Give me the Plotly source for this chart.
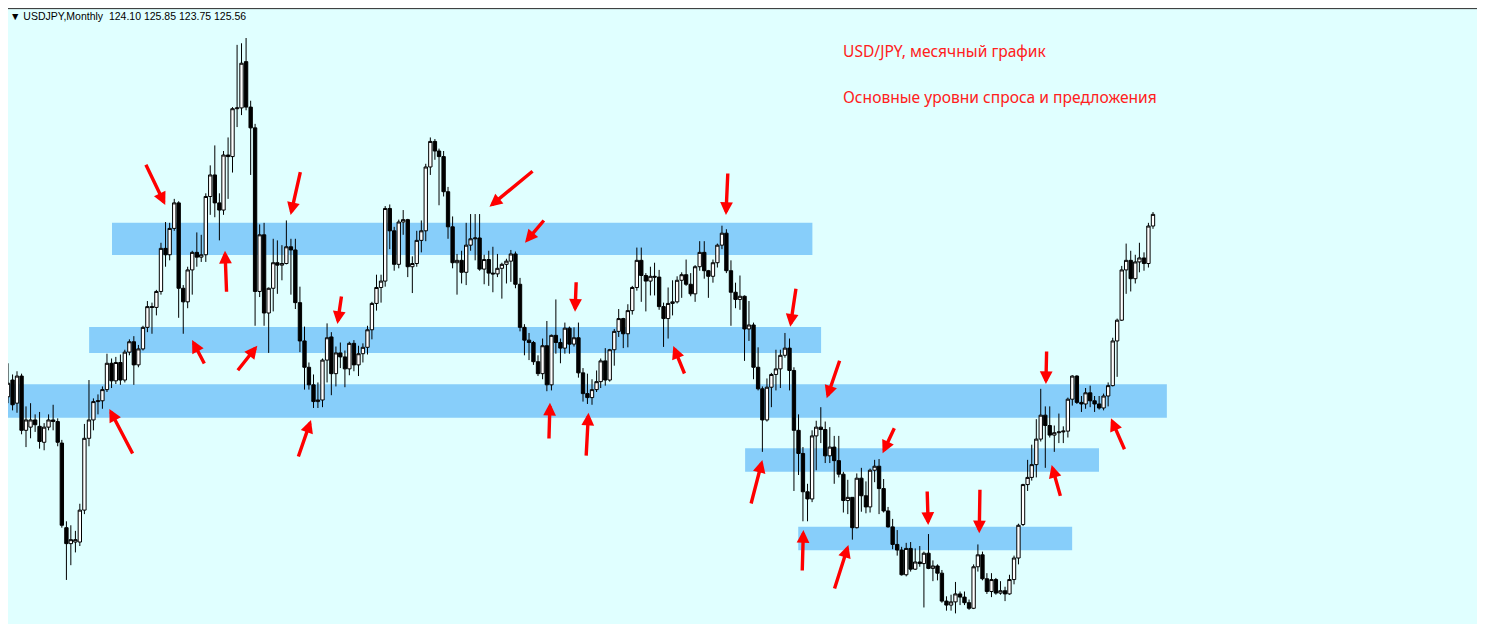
import pandas as pd
import plotly.graph_objects as go

# ---------------- data (USDJPY monthly, Feb 1994 - Jun 2015) ----------------
months = pd.date_range("1994-02-01", "2015-06-01", freq="MS")

open_ = [
    108.0, 102.7, 104.8, 101.9, 105.3, 98.5, 98.9, 99.8, 99.0, 97.0, 98.9,
    99.8, 99.6, 96.9, 86.3, 84.3, 84.5, 84.5, 88.5, 97.5, 99.8, 102.1, 102.2,
    103.6, 106.9, 104.7, 107.0, 104.8, 108.3, 109.6, 106.7, 108.7, 111.4, 114.0, 113.9,
    115.9, 121.3, 120.5, 123.8, 127.0, 116.3, 114.6, 118.6, 120.8, 120.2, 120.5, 127.8,
    130.5, 127.0, 126.1, 133.0, 132.8, 138.8, 138.9, 144.7, 139.0, 136.4, 115.9, 123.0,
    113.2, 116.3, 119.5, 119.2, 119.4, 121.5, 121.1, 114.5, 109.7, 106.4, 104.2, 102.1,
    102.3, 107.3, 110.2, 105.6, 108.2, 107.7, 106.2, 109.4, 106.7, 108.1, 108.9, 111.1,
    114.4, 116.4, 117.2, 126.3, 123.5, 119.3, 124.6, 124.9, 119.0, 119.4, 122.3, 123.5,
    131.5, 134.7, 133.5, 132.8, 128.4, 124.0, 119.5, 119.8, 118.3, 121.7, 122.5, 122.6,
    118.7, 119.9, 118.2, 118.1, 118.8, 119.3, 119.7, 120.6, 116.8, 111.4, 109.8, 109.5,
    107.1, 105.6, 109.1, 104.2, 110.4, 109.5, 108.8, 111.3, 109.3, 110.1, 105.7, 103.1,
    102.6, 103.6, 104.6, 107.2, 104.8, 108.6, 110.9, 112.5, 110.6, 113.5, 116.4, 119.8,
    117.9, 117.2, 117.8, 117.7, 114.0, 112.5, 114.4, 114.6, 117.3, 118.0, 116.8, 115.6,
    119.0, 120.8, 118.5, 117.8, 119.5, 121.7, 123.2, 118.5, 115.8, 114.9, 115.3, 111.2,
    111.7, 106.4, 103.7, 99.8, 103.9, 105.5, 106.2, 107.9, 108.8, 106.0, 98.5, 95.6,
    90.8, 89.9, 97.8, 98.9, 98.6, 95.3, 96.4, 94.7, 93.0, 89.7, 90.1, 86.3,
    92.5, 90.3, 88.9, 93.5, 94.0, 91.2, 88.4, 86.4, 84.2, 83.5, 80.4, 83.7,
    81.1, 82.0, 81.8, 83.1, 81.2, 81.5, 80.6, 77.1, 76.6, 77.0, 78.0, 77.6,
    76.9, 76.2, 81.4, 82.9, 79.9, 78.3, 79.8, 78.1, 78.4, 78.0, 79.8, 82.5,
    86.7, 91.7, 92.6, 94.2, 97.4, 100.4, 99.1, 97.9, 98.2, 98.3, 98.4, 102.4,
    105.3, 102.0, 101.8, 103.2, 102.2, 101.8, 101.3, 102.8, 104.1, 109.7, 112.3, 118.6,
    119.8, 117.5, 119.6, 120.1, 119.4, 124.10,
]

high = [
    108.2, 106.9, 105.5, 105.9, 105.6, 101.5, 101.9, 100.5, 100.8, 99.4, 100.5,
    101.7, 100.0, 97.3, 87.1, 86.6, 85.9, 89.3, 99.3, 104.8, 102.5, 103.0, 104.0,
    108.1, 107.5, 107.7, 108.0, 108.6, 109.9, 110.3, 109.2, 111.6, 114.7, 114.5, 116.1,
    122.0, 124.6, 124.5, 127.5, 127.2, 116.7, 119.0, 121.0, 123.3, 123.0, 128.2, 131.7,
    134.2, 128.2, 133.5, 135.2, 139.0, 146.8, 147.0, 147.66, 139.8, 136.9, 124.3, 124.5,
    116.4, 122.5, 122.3, 121.7, 124.8, 122.5, 122.5, 116.5, 111.5, 107.0, 105.5, 104.5,
    107.5, 111.9, 110.8, 109.0, 109.5, 108.5, 109.6, 109.8, 109.1, 109.4, 111.6, 114.6,
    118.0, 118.0, 126.6, 126.8, 124.0, 124.9, 126.1, 125.0, 120.3, 123.5, 124.8, 131.9,
    135.2, 135.0, 133.8, 133.5, 129.0, 125.3, 120.6, 121.0, 124.5, 125.6, 125.6, 125.6,
    120.5, 121.0, 121.5, 120.6, 119.5, 120.0, 121.1, 120.9, 117.6, 111.8, 110.7, 109.7,
    107.9, 110.0, 112.2, 110.5, 114.9, 110.0, 112.0, 111.5, 111.4, 112.0, 106.3, 105.6,
    104.9, 106.0, 107.5, 108.8, 108.7, 111.2, 113.7, 112.6, 114.3, 116.6, 121.4, 121.4,
    118.2, 119.0, 119.5, 118.6, 114.5, 116.4, 117.3, 117.8, 118.3, 119.9, 118.2, 119.2,
    122.2, 122.2, 118.6, 119.9, 121.9, 124.14, 123.7, 119.8, 117.0, 117.9, 115.4, 114.7,
    112.0, 108.9, 104.0, 105.0, 105.7, 108.6, 108.6, 110.7, 110.0, 106.4, 100.5, 96.4,
    91.8, 98.5, 99.7, 101.4, 99.6, 98.9, 97.8, 97.8, 93.3, 92.3, 90.1, 93.1,
    93.8, 92.1, 93.7, 94.8, 94.9, 92.4, 88.9, 87.4, 86.0, 83.9, 84.4, 84.5,
    83.7, 84.0, 83.3, 85.5, 82.2, 81.7, 81.0, 77.7, 77.9, 79.5, 78.3, 78.3,
    77.3, 81.7, 84.2, 83.3, 80.6, 80.6, 80.0, 79.6, 78.9, 80.4, 82.8, 86.8,
    91.8, 94.8, 96.7, 99.9, 103.7, 101.5, 101.5, 99.1, 100.6, 99.0, 102.6, 105.4,
    105.4, 102.8, 103.8, 104.1, 102.8, 102.8, 103.1, 104.5, 110.1, 112.5, 119.1, 121.9,
    121.0, 120.5, 122.0, 120.8, 124.5, 125.85,
]

low = [
    104.8, 101.9, 101.0, 100.7, 98.0, 96.4, 97.5, 98.3, 96.2, 96.0, 98.5,
    98.5, 96.5, 86.3, 79.75, 81.6, 83.2, 84.0, 88.0, 96.5, 98.5, 100.5, 101.2,
    103.3, 103.8, 104.3, 104.2, 104.5, 107.9, 104.2, 106.4, 108.5, 110.8, 110.6, 112.9,
    115.5, 119.0, 119.8, 123.5, 112.6, 110.6, 113.8, 115.5, 119.0, 119.6, 119.6, 125.5,
    125.2, 122.3, 125.5, 127.5, 130.8, 136.5, 138.0, 138.6, 130.5, 111.6, 115.2, 111.6,
    108.2, 113.4, 115.6, 117.3, 119.3, 115.5, 113.7, 108.3, 103.6, 103.6, 101.3, 101.3,
    101.4, 104.5, 102.9, 104.0, 106.3, 103.9, 105.4, 105.9, 105.3, 107.0, 108.0, 109.9,
    113.5, 114.5, 116.5, 121.2, 118.5, 118.8, 123.0, 117.7, 115.7, 119.0, 120.8, 122.2,
    130.5, 132.4, 126.7, 127.8, 122.5, 118.8, 115.5, 116.9, 116.7, 121.0, 119.8, 118.5,
    116.8, 116.6, 115.8, 117.7, 115.0, 116.9, 117.1, 116.3, 110.9, 107.9, 107.3, 106.7,
    105.3, 104.9, 103.4, 103.5, 108.1, 106.9, 108.1, 108.1, 109.0, 105.1, 102.1, 101.8,
    101.7, 103.3, 103.8, 104.1, 104.6, 106.6, 110.2, 108.8, 108.9, 113.0, 116.0, 114.6,
    113.4, 115.4, 115.4, 113.6, 108.95, 110.0, 112.9, 114.4, 115.1, 116.6, 115.3, 114.6,
    118.5, 117.5, 115.1, 117.0, 118.9, 121.2, 118.2, 111.6, 113.8, 113.6, 107.2, 109.7,
    104.9, 103.5, 95.8, 99.6, 101.4, 103.5, 103.8, 107.6, 103.5, 90.9, 92.9, 87.1,
    87.1, 89.5, 93.5, 96.9, 94.4, 94.4, 91.8, 92.6, 88.2, 88.0, 84.8, 86.2,
    88.3, 88.1, 88.2, 92.0, 88.0, 88.2, 86.3, 83.6, 82.8, 80.3, 80.2, 80.8,
    81.0, 81.4, 76.3, 81.1, 79.6, 79.7, 76.9, 75.9, 75.9, 75.56, 76.6, 76.6,
    76.0, 76.1, 80.8, 79.7, 78.0, 77.6, 77.9, 77.9, 77.1, 77.9, 79.2, 81.7,
    86.5, 90.9, 92.2, 92.6, 97.1, 93.8, 97.6, 95.8, 96.9, 96.9, 97.6, 101.6,
    101.8, 100.8, 101.2, 101.4, 100.8, 101.1, 101.0, 101.5, 104.0, 105.2, 112.2, 115.6,
    115.9, 116.9, 118.3, 118.5, 118.9, 123.75,
]

close = [
    105.0, 104.4, 101.7, 105.3, 98.5, 99.8, 99.8, 99.2, 97.1, 98.9, 99.8,
    99.6, 97.0, 86.6, 84.3, 84.8, 84.8, 88.5, 97.5, 99.8, 102.1, 102.2, 103.6,
    106.9, 104.7, 107.0, 104.8, 108.3, 109.6, 106.7, 108.7, 111.4, 114.0, 113.9, 115.9,
    121.3, 120.5, 123.8, 127.0, 116.3, 114.6, 118.6, 120.8, 120.2, 120.5, 127.8, 130.5,
    127.0, 126.1, 133.0, 132.8, 138.8, 138.9, 144.5, 139.0, 136.4, 115.9, 123.0, 113.2,
    116.3, 119.5, 119.2, 119.4, 121.5, 121.1, 114.5, 109.7, 106.4, 104.2, 102.1, 102.3,
    107.3, 110.1, 105.6, 108.2, 107.7, 106.2, 109.4, 106.7, 108.1, 108.9, 111.1, 114.4,
    116.4, 117.2, 126.3, 123.5, 119.3, 124.6, 124.9, 119.0, 119.4, 122.3, 123.5, 131.5,
    134.7, 133.5, 132.8, 128.4, 124.0, 119.5, 119.8, 118.3, 121.7, 122.5, 122.6, 118.7,
    119.9, 118.2, 118.1, 118.8, 119.3, 119.7, 120.6, 116.8, 111.4, 109.8, 109.5, 107.1,
    105.6, 109.1, 104.2, 110.4, 109.5, 108.8, 111.3, 109.3, 110.1, 105.7, 103.1, 102.6,
    103.6, 104.6, 107.2, 104.8, 108.6, 110.9, 112.5, 110.6, 113.5, 116.4, 119.8, 117.9,
    117.2, 117.8, 117.7, 114.0, 112.5, 114.4, 114.6, 117.3, 118.0, 116.8, 115.6, 119.0,
    120.8, 118.5, 117.8, 119.5, 121.7, 123.2, 118.5, 115.8, 114.9, 115.3, 111.2, 111.7,
    106.4, 103.7, 99.8, 103.9, 105.5, 106.2, 107.9, 108.8, 106.0, 98.5, 95.6, 90.8,
    89.9, 97.8, 98.9, 98.6, 95.3, 96.4, 94.7, 93.0, 89.7, 90.1, 86.3, 92.5,
    90.3, 88.9, 93.5, 94.0, 91.2, 88.4, 86.4, 84.2, 83.5, 80.4, 83.7, 81.1,
    82.0, 81.8, 83.1, 81.2, 81.5, 80.6, 77.1, 76.6, 77.0, 78.0, 77.6, 76.9,
    76.2, 81.4, 82.9, 79.9, 78.3, 79.8, 78.1, 78.4, 78.0, 79.8, 82.5, 86.6,
    91.7, 92.6, 94.2, 97.4, 100.4, 99.1, 97.9, 98.2, 98.3, 98.4, 102.4, 105.3,
    102.0, 101.8, 103.2, 102.2, 101.8, 101.3, 102.8, 104.1, 109.7, 112.3, 118.6, 119.8,
    117.5, 119.6, 120.1, 119.4, 124.1, 125.56,
]

# supply / demand zones
band_start = ["1996-02-04", "1995-09-02", "1994-01-01", "2007-11-05", "2008-10-30"]
band_end = ["2009-02-03", "2009-04-03", "2015-09-03", "2014-05-31", "2013-11-30"]
band_low = [120.47, 108.19, 100.08, 93.31, 83.46]
band_high = [124.51, 111.44, 104.26, 96.24, 86.42]

# red arrows: tip (where it points) and tail
arrow_tip_date = [
    "1997-01-30", "1998-03-11", "1999-05-30", "1997-07-31", "1998-10-16", "2000-04-11",
    "1996-01-17", "1999-10-15", "2003-02-06", "2003-10-05", "2007-06-28", "2004-09-08",
    "2006-07-06", "2008-09-06", "2009-05-11", "2004-03-22", "2004-12-08", "2008-03-01",
    "2010-05-25", "2008-12-04", "2009-10-05", "2011-03-30", "2012-03-10", "2013-06-05",
    "2013-07-14", "2014-08-20",
]
arrow_tip_price = [
    126.73, 121.01, 125.48, 109.82, 109.10, 111.82,
    101.17, 99.79, 126.52, 122.01, 125.48, 113.36,
    109.06, 111.48, 102.51, 101.96, 100.71, 94.78,
    95.62, 86.01, 84.13, 86.63, 85.59, 104.30,
    94.15, 100.00,
]
arrow_tail_date = [
    "1996-09-16", "1998-03-22", "1999-08-06", "1997-10-27", "1998-05-29", "2000-05-10",
    "1996-06-28", "1999-07-18", "2003-12-05", "2004-02-18", "2007-07-11", "2004-09-16",
    "2006-09-24", "2008-10-16", "2009-08-10", "2004-03-15", "2004-11-22", "2007-12-13",
    "2010-08-17", "2008-11-26", "2009-06-30", "2011-03-23", "2012-03-15", "2013-06-10",
    "2013-09-14", "2014-11-24",
]
arrow_tail_price = [
    131.96, 115.67, 131.03, 106.68, 105.84, 115.45,
    95.40, 95.03, 131.12, 124.98, 130.87, 117.25,
    105.43, 116.42, 107.40, 97.28, 95.15, 89.14,
    98.95, 80.74, 78.49, 91.02, 91.23, 108.56,
    90.10, 95.94,
]

header_text = "\u25bc USDJPY,Monthly\u00a0\u00a0124.10 125.85 123.75 125.56"
note_lines = ["USD/JPY, месячный график", "Основные уровни спроса и предложения"]

# ---------------- figure ----------------
fig = go.Figure()
fig.add_trace(go.Candlestick(
    x=months, open=open_, high=high, low=low, close=close,
    increasing=dict(line=dict(color="black", width=1), fillcolor="white"),
    decreasing=dict(line=dict(color="black", width=1), fillcolor="black"),
    whiskerwidth=0,
    showlegend=False,
    hoverinfo="x+y",
))

shapes = []
for x0, x1, y0, y1 in zip(band_start, band_end, band_low, band_high):
    shapes.append(dict(type="rect", xref="x", yref="y", x0=x0, x1=x1, y0=y0, y1=y1,
                       fillcolor="#87CEFA", line=dict(width=0), layer="below"))
# frame lines (top and right)
shapes.append(dict(type="line", xref="paper", yref="paper", x0=0.0, x1=1.0, y0=0.999, y1=0.999,
                   line=dict(color="#2b2b2b", width=1)))
shapes.append(dict(type="line", xref="paper", yref="paper", x0=0.9995, x1=0.9995, y0=0.0, y1=1.0,
                   line=dict(color="#111111", width=2)))

annotations = []
for tx, ty, sx, sy in zip(arrow_tip_date, arrow_tip_price, arrow_tail_date, arrow_tail_price):
    annotations.append(dict(
        x=tx, y=ty, xref="x", yref="y", ax=sx, ay=sy, axref="x", ayref="y",
        text="", showarrow=True, arrowhead=2, arrowsize=0.75, arrowwidth=3.4,
        arrowcolor="#ff0000", standoff=0, startstandoff=0,
    ))

annotations.append(dict(
    x=0.0, y=0.987, xref="paper", yref="paper", xanchor="left", yanchor="middle",
    text=header_text, showarrow=False,
    font=dict(family="Liberation Sans, Arial, sans-serif", size=10.5, color="black"),
))
annotations.append(dict(
    x=0.5665, y=0.931, xref="paper", yref="paper", xanchor="left", yanchor="middle",
    text=note_lines[0], showarrow=False,
    font=dict(family="Noto Sans, sans-serif", size=15.6, color="#ff2020"),
))
annotations.append(dict(
    x=0.5665, y=0.8555, xref="paper", yref="paper", xanchor="left", yanchor="middle",
    text=note_lines[1], showarrow=False,
    font=dict(family="Noto Sans, sans-serif", size=15.6, color="#ff2020"),
))

fig.update_layout(
    width=1477, height=616,
    margin=dict(l=0, r=6, t=0, b=0, pad=0),
    paper_bgcolor="white",
    plot_bgcolor="#E0FFFF",
    shapes=shapes,
    annotations=annotations,
    showlegend=False,
    boxgap=0.1, boxgroupgap=0.1,
    xaxis=dict(range=["1994-03-01", "2021-06-19"], rangeslider=dict(visible=False),
               showgrid=False, zeroline=False, showticklabels=False, ticks="",
               showline=False),
    yaxis=dict(range=[74.23, 151.42], showgrid=False, zeroline=False,
               showticklabels=False, ticks="", showline=False),
)

fig.write_html("out.html")
